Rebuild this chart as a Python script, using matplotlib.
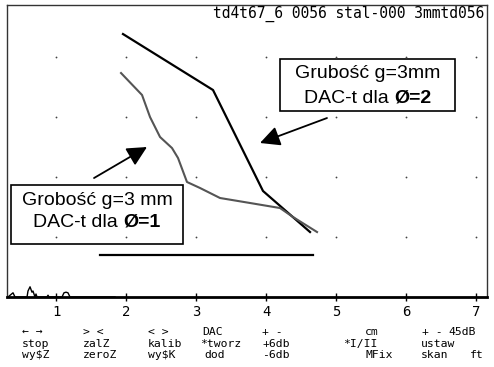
import numpy as np
import matplotlib
matplotlib.use('Agg')
import matplotlib.pyplot as plt
from matplotlib.patches import Rectangle
from matplotlib.offsetbox import TextArea, HPacker, AnnotationBbox

# DAC curve for diameter 2 (black)
dac2_x = [1.957, 3.243, 3.957, 4.629]
dac2_y = [4.383, 3.450, 1.767, 1.083]

# DAC curve for diameter 1 (grey, jagged)
dac1_x = [1.929, 2.229, 2.343, 2.486, 2.657, 2.743, 2.871, 3.057, 3.343, 3.771, 4.200, 4.386, 4.729]
dac1_y = [3.733, 3.367, 3.000, 2.667, 2.483, 2.317, 1.917, 1.817, 1.650, 1.567, 1.483, 1.333, 1.083]

# reference level line
ref_x = [1.629, 4.671]
ref_y = [0.70, 0.70]

# echo noise on the baseline
noise_x = [0.30, 0.314, 0.386, 0.414, 0.586, 0.600, 0.629, 0.657, 0.671, 0.700, 0.714, 0.729, 0.743,
           0.871, 0.886, 0.900, 1.086, 1.114, 1.143, 1.171, 1.200, 1.557, 1.843]
noise_y = [0.0, 0.0, 0.07, 0.0, 0.0, 0.10, 0.17, 0.08, 0.10, 0.0, 0.05, 0.0, 0.0,
           0.0, 0.03, 0.0, 0.0, 0.07, 0.08, 0.07, 0.0, 0.0, 0.0]

xticks = [1, 2, 3, 4, 5, 6, 7]
grid_rows = [1, 2, 3, 4]

header = "td4t67_6 0056 stal-000 3mmtd056"

# menu entries: (x px, row, text)
menu = [
    (22, 0, "\u2190 \u2192"), (83, 0, "> <"), (148, 0, "< >"), (202, 0, "DAC"),
    (262, 0, "+ -"), (365, 0, "cm"), (422, 0, "+ -"), (448, 0, "45dB"),
    (22, 1, "stop"), (83, 1, "zalZ"), (148, 1, "kalib"), (200, 1, "*tworz"),
    (262, 1, "+6db"), (343, 1, "*I/II"), (421, 1, "ustaw"),
    (22, 2, "wy\\$Z"), (83, 2, "zeroZ"), (148, 2, "wy\\$K"), (204, 2, "dod"),
    (262, 2, "-6db"), (365, 2, "MFix"), (421, 2, "skan"), (470, 2, "ft"),
]
menu_rows = [332, 344, 355]

W, H = 494, 367
fig = plt.figure(figsize=(W / 100, H / 100), dpi=100)
ax = fig.add_axes([7 / W, 70 / H, 480 / W, 292 / H])
ax.set_xlim(0.3, 7.157)
ax.set_ylim(0, 4.867)

mono = 'DejaVu Sans Mono'
sans = 'Liberation Sans'

for s in ['left', 'top', 'right']:
    ax.spines[s].set_linewidth(1.0)
    ax.spines[s].set_color('#333333')
ax.spines['bottom'].set_linewidth(2.0)
ax.spines['bottom'].set_color('black')

ax.set_xticks(xticks)
ax.set_xticklabels([str(t) for t in xticks], family=mono, fontsize=10)
ax.tick_params(axis='x', direction='inout', length=6, width=1, pad=3, color='black')
ax.set_yticks([])

gx, gy = np.meshgrid(xticks, grid_rows)
ax.plot(gx.ravel(), gy.ravel(), 'o', ms=1.3, color='#444444', mec='none')

ax.plot(noise_x, noise_y, color='black', lw=1.0)
ax.plot(dac2_x, dac2_y, color='black', lw=1.6)
ax.plot(dac1_x, dac1_y, color='#555555', lw=1.5)
ax.plot(ref_x, ref_y, color='black', lw=1.6)

# label boxes
ax.add_patch(Rectangle((0.357, 0.883), 2.457, 0.983, fill=False, ec='black', lw=1.2))
ax.add_patch(Rectangle((4.200, 3.100), 2.500, 0.867, fill=False, ec='black', lw=1.2))

tp = dict(fontsize=14, family=sans)
bp = dict(fontsize=14, family=sans, weight='bold')

ax.text(1.586, 1.533, "Grobość g=3 mm", ha='center', va='baseline', **tp)
line = HPacker(children=[TextArea("DAC-t dla", textprops=tp), TextArea("Ø=1", textprops=bp)],
               pad=0, sep=4, align='baseline')
ax.add_artist(AnnotationBbox(line, (1.586, 1.25), frameon=False, box_alignment=(0.5, 0.5)))

ax.text(5.45, 3.65, "Grubość g=3mm", ha='center', va='baseline', **tp)
line = HPacker(children=[TextArea("DAC-t dla", textprops=tp), TextArea("Ø=2", textprops=bp)],
               pad=0, sep=4, align='baseline')
ax.add_artist(AnnotationBbox(line, (5.45, 3.31), frameon=False, box_alignment=(0.5, 0.5)))

arrow = dict(arrowstyle='-|>,head_length=0.6,head_width=0.3', mutation_scale=20,
             color='black', lw=1.3, shrinkA=0, shrinkB=0)
ax.annotate("", xy=(2.30, 2.50), xytext=(1.543, 1.983), arrowprops=arrow)
ax.annotate("", xy=(3.914, 2.567), xytext=(4.871, 2.983), arrowprops=arrow)

fig.text(484 / W, 1 - 13.5 / H, header, family=mono, fontsize=10.5, ha='right', va='center')

for px, row, txt in menu:
    fig.text(px / W, 1 - menu_rows[row] / H, txt, family=mono, fontsize=8.2, ha='left', va='center')

fig.savefig('out.png', dpi=100)
